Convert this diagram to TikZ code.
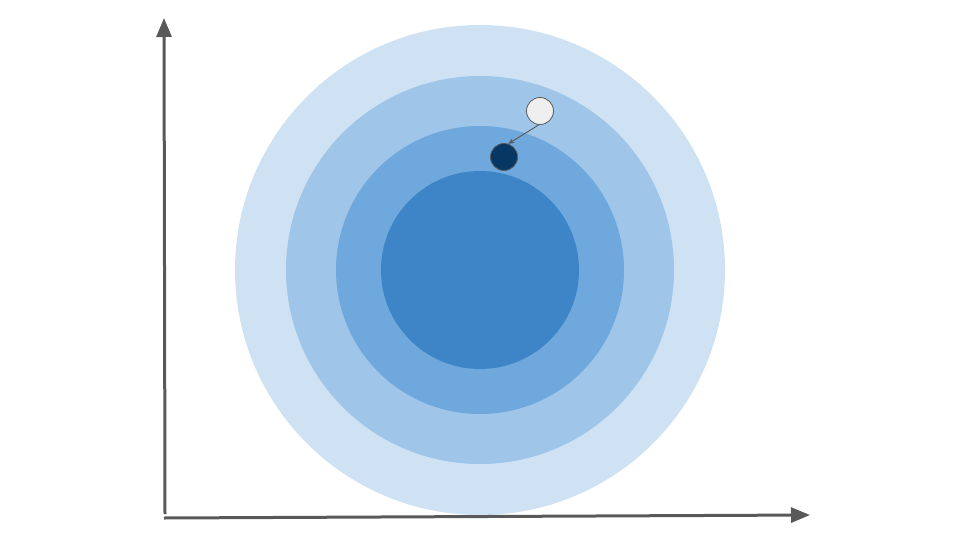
\documentclass[tikz,border=0pt]{standalone}
\usepackage{tikz}
\usetikzlibrary{arrows.meta,positioning}
\usepackage{xcolor}
\definecolor{ringA}{HTML}{CFE2F3}
\definecolor{ringB}{HTML}{9FC5E8}
\definecolor{ringC}{HTML}{6FA8DC}
\definecolor{ringD}{HTML}{3D85C6}
\definecolor{axisgray}{HTML}{595959}
\definecolor{darkdot}{HTML}{073763}
\definecolor{lightdot}{HTML}{EFEFEF}

\begin{document}
\begin{tikzpicture}[
  x=1pt, y=-1pt,
  ring/.style={circle, inner sep=0pt, draw=none},
  dot/.style={circle, inner sep=0pt, minimum size=27pt, draw=axisgray, line width=0.8pt},
  axis/.style={-{Triangle[length=19pt, width=15pt]}, line width=3pt, draw=axisgray},
  move/.style={-{Stealth[length=6pt, width=5pt]}, line width=0.9pt, draw=axisgray}
]
\useasboundingbox (0,0) rectangle (960,540);

% target rings
\node[ring, fill=ringA, minimum size=490pt] (outer) at (480,270) {};
\node[ring, fill=ringB, minimum size=388pt] (second) at (480,270) {};
\node[ring, fill=ringC, minimum size=288pt] (third) at (480,270) {};
\node[ring, fill=ringD, minimum size=198pt] (inner) at (480,270) {};

% moving point
\node[dot, fill=lightdot] (start) at (540,111) {};
\node[dot, fill=darkdot] (stop) at (504,157) {};
\draw[move] (start.265) -- (stop.72);

% axes
\coordinate (origin) at (164,518);
\coordinate (ytip) at (164,18);
\coordinate (xtip) at (810,515);
\draw[axis] (165,514) -- (ytip);
\draw[axis] (origin) -- (xtip);
\end{tikzpicture}
\end{document}
